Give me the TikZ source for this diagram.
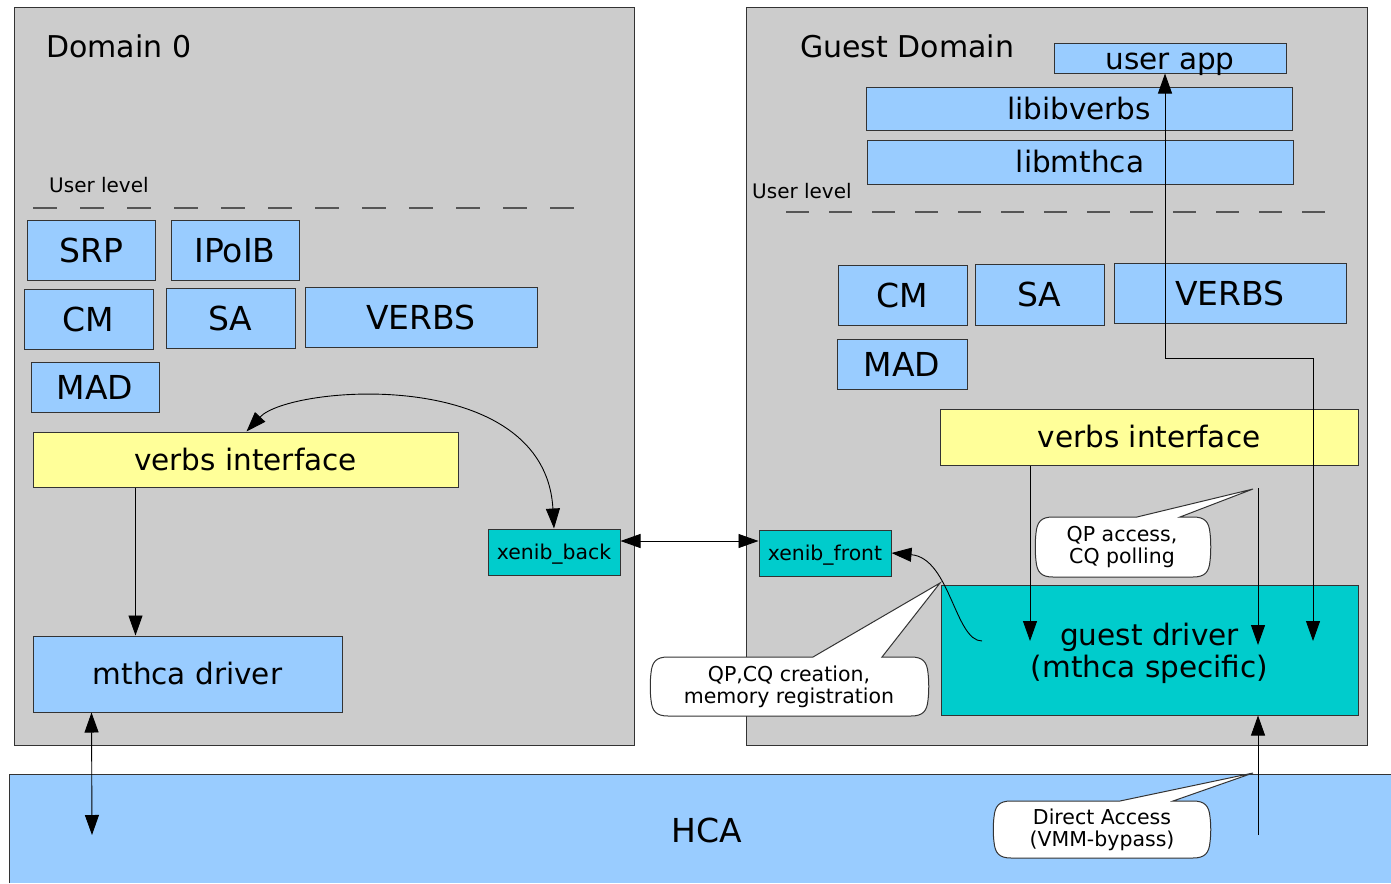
\documentclass[tikz,border=0pt]{standalone}
\usepackage{fontspec}
\setmainfont{DejaVu Sans}
\usetikzlibrary{arrows.meta,calc}

\definecolor{domgray}{HTML}{CCCCCC}
\definecolor{bluebox}{HTML}{99CCFF}
\definecolor{yellowbox}{HTML}{FFFF99}
\definecolor{tealbox}{HTML}{00CCCC}
\definecolor{edgecol}{HTML}{333333}
\definecolor{dashcol}{HTML}{555555}

\tikzset{
  domainbox/.style={draw=edgecol, fill=domgray, line width=1pt, inner sep=0pt},
  boxbase/.style={draw=edgecol, line width=1pt, inner sep=0pt, text=black},
  capbox/.style={boxbase, fill=bluebox, font=\fontsize{33}{40}\selectfont, text height=24pt, text depth=0pt},
  wordbox/.style={boxbase, fill=bluebox, font=\fontsize{29.5}{36}\selectfont, text height=21.5pt, text depth=0pt},
  ifacebox/.style={wordbox, fill=yellowbox},
  xenbox/.style={boxbase, fill=tealbox, font=\fontsize{20.4}{24}\selectfont, text height=15pt, text depth=0pt},
  drvbox/.style={boxbase, fill=tealbox, font=\fontsize{29.5}{32}\selectfont, align=center, text depth=0pt},
  titletext/.style={anchor=base west, inner sep=0pt, font=\fontsize{30}{36}\selectfont},
  levellabel/.style={anchor=base west, inner sep=0pt, font=\fontsize{20}{24}\selectfont},
  levelline/.style={draw=dashcol, line width=1.4pt},
  arr/.style={draw=black, line width=0.9pt, -{Triangle[length=20pt,width=14pt]}},
  biarr/.style={draw=black, line width=0.9pt, {Triangle[length=20pt,width=14pt]}-{Triangle[length=20pt,width=14pt]}},
  bubbleshape/.style={draw=edgecol, fill=white, line width=1pt},
  bubbletext/.style={align=center, inner sep=0pt, font=\fontsize{20.5}{22}\selectfont},
}

% speech bubble: left, top, right, bottom, pointer base x1, x2, tip x, tip y
\newcommand{\speechbubble}[8]{%
  \draw[bubbleshape] (#1+16,#2) -- (#5,#2) -- (#7,#8) -- (#6,#2) -- (#3-16,#2)
    .. controls (#3-4,#2) and (#3,#2+5) .. (#3+1,#2+16)
    .. controls (#3+2,#2+24) and (#3+2,#4-24) .. (#3+1,#4-16)
    .. controls (#3,#4-5) and (#3-4,#4) .. (#3-16,#4)
    -- (#1+16,#4)
    .. controls (#1+4,#4) and (#1,#4-5) .. (#1-1,#4-16)
    .. controls (#1-2,#4-24) and (#1-2,#2+24) .. (#1-1,#2+16)
    .. controls (#1,#2+5) and (#1+4,#2) .. cycle;
}

\begin{document}
\begin{tikzpicture}[x=1pt,y=-1pt]
\useasboundingbox (0,0) rectangle (1391,883);

% host adapter strip
\fill[bluebox] (9,774) rectangle (1391,883);
\draw[edgecol, line width=1pt] (9,883) -- (9,774) -- (1391,774);
\node[font=\fontsize{33}{40}\selectfont, text height=24pt, text depth=0pt, inner sep=0pt] (hca) at (707,830) {HCA};

% the two domains
\node[domainbox, minimum width=620pt, minimum height=737pt] (dom0) at (324,376.5) {};
\node[domainbox, minimum width=621pt, minimum height=737pt] (domg) at (1056.5,376.5) {};
\node[titletext] (dom0title) at (46,58) {Domain 0};
\node[titletext] (domgtitle) at (800,58) {Guest Domain};

% ---- Domain 0 ----
\node[levellabel] (lvl0) at (49,192) {User level};
\draw[levelline, dash pattern=on 24pt off 23pt] (33,208) -- (575,208);

\node[capbox, minimum width=128pt, minimum height=60pt] (srp) at (91,250) {SRP};
\node[capbox, minimum width=128pt, minimum height=60pt] (ipoib) at (235,250) {IPoIB};
\node[capbox, minimum width=129pt, minimum height=60pt] (cm0) at (88.5,319) {CM};
\node[capbox, minimum width=129pt, minimum height=60pt] (sa0) at (230.5,318) {SA};
\node[capbox, minimum width=232pt, minimum height=60pt] (verbs0) at (421,317) {VERBS};
\node[capbox, minimum width=128pt, minimum height=50pt] (mad0) at (95,387) {MAD};
\node[ifacebox, minimum width=425pt, minimum height=55pt] (vi0) at (245.5,459.5) {verbs interface};
\node[xenbox, minimum width=132pt, minimum height=46pt] (xb) at (554,552) {xenib\_back};
\node[wordbox, minimum width=309pt, minimum height=76pt] (md) at (187.5,674) {mthca driver};

% ---- Guest domain ----
\node[wordbox, minimum width=232pt, minimum height=29pt] (ua) at (1170,58.5) {user app};
\node[wordbox, minimum width=426pt, minimum height=43pt] (lib1) at (1079,108.5) {libibverbs};
\node[wordbox, minimum width=426pt, minimum height=44pt] (lib2) at (1080,162) {libmthca};
\node[levellabel] (lvlg) at (752,198) {User level};
\draw[levelline, dash pattern=on 23pt off 20pt] (786,212) -- (1327,212);

\node[capbox, minimum width=129pt, minimum height=60pt] (cm1) at (902.5,295) {CM};
\node[capbox, minimum width=129pt, minimum height=61pt] (sa1) at (1039.5,294.5) {SA};
\node[capbox, minimum width=232pt, minimum height=60pt] (verbs1) at (1230,293) {VERBS};
\node[capbox, minimum width=130pt, minimum height=50pt] (mad1) at (902,364) {MAD};
\node[ifacebox, minimum width=418pt, minimum height=56pt] (vi1) at (1149,437) {verbs interface};
\node[xenbox, minimum width=132pt, minimum height=46pt] (xf) at (825,553) {xenib\_front};
\node[drvbox, minimum width=417pt, minimum height=130pt] (gd) at (1149.5,650) {guest driver\\(mthca specific)};

% ---- connector end points ----
\coordinate (hcaL) at (92,835);
\coordinate (hcaR) at (1258,835);
\coordinate (gdA) at (1030,641);
\coordinate (gdB) at (1258,645);
\coordinate (gdC) at (1313,641);
\coordinate (vicB) at (1258,488);
\coordinate (bendL) at (1165,358);
\coordinate (bendR) at (1313,358);
\coordinate (gdS) at (982,641);

% ---- connectors, Domain 0 ----
\draw[biarr] ([xshift=214pt]vi0.north west) .. controls (290,385) and (545,365) .. (xb.north);
\draw[arr] ([xshift=103pt]vi0.south west) -- ([xshift=103pt]vi0.south west |- md.north);
\draw[biarr] ([xshift=59pt]md.south west) -- (hcaL);
\draw[biarr] ([yshift=11pt]xb.east) -- ([yshift=11pt]xb.east -| xf.west);

% ---- connectors, guest ----
\draw[arr] (hcaR) -- (hcaR |- gd.south);
\draw[arr] (vi1.south -| gdA) -- (gdA);
\draw[arr] (vicB) -- (gdB);
\draw[biarr] (bendL |- ua.south) -- (bendL) -- (bendR) -- (gdC);
\draw[arr] (gdS) .. controls (955,641) and (950,558) .. (xf.east);

% ---- speech bubbles ----
\speechbubble{1037}{517}{1209}{577}{1137}{1180}{1253}{489}
\node[bubbletext] (note1) at (1122,547) {QP access,\\CQ polling};
\speechbubble{652}{657}{927}{716}{813}{882}{940}{583}
\node[bubbletext] (note2) at (789,687) {QP,CQ creation,\\memory registration};
\speechbubble{995}{801}{1209}{858}{1120}{1173}{1253}{773}
\node[bubbletext] (note3) at (1102,830) {Direct Access\\(VMM-bypass)};

\end{tikzpicture}
\end{document}
